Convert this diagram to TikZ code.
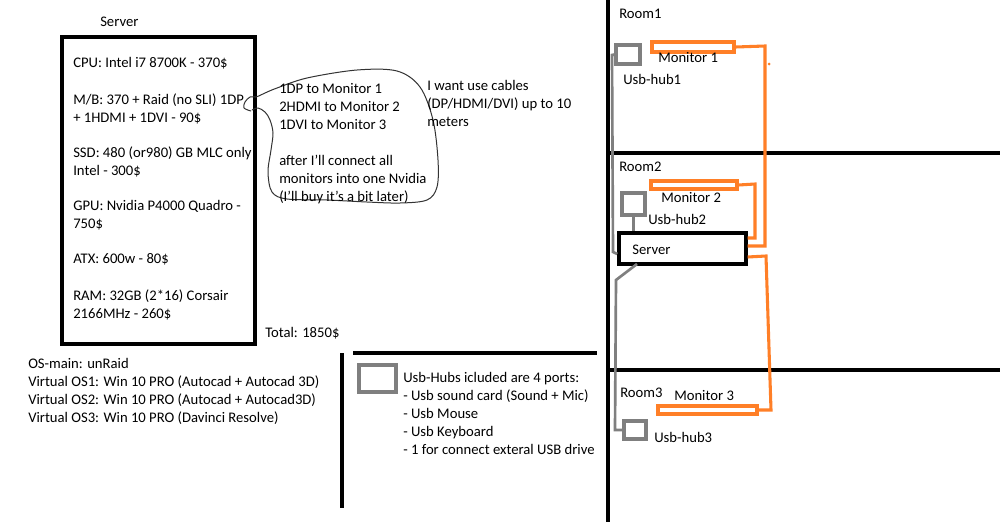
\documentclass[tikz,border=0pt]{standalone}
\usepackage{fontspec}
\setmainfont{Carlito}
\usetikzlibrary{fit}
\definecolor{hubgray}{RGB}{127,127,127}
\definecolor{monorange}{RGB}{255,127,39}
\newcommand\mlines[1]{\begin{tabular}[t]{@{}l@{}}#1\end{tabular}}
\begin{document}
\begin{tikzpicture}[x=0.75pt,y=-0.75pt,
  txt/.style={anchor=base west, inner sep=0pt, font=\fontsize{11}{13.5}\selectfont},
  blackbox/.style={draw=black, line width=2.5pt, inner sep=0pt},
  hubbox/.style={draw=hubgray, line width=2.3pt, inner sep=0pt},
  monbox/.style={draw=monorange, line width=2.3pt, inner sep=0pt},
  wall/.style={draw=black, line width=2.4pt},
  usbcable/.style={draw=hubgray, line width=2pt},
  vidcable/.style={draw=monorange, line width=2.3pt},
  cloudline/.style={draw=black!80, line width=0.75pt}]
\fill[white] (0,0) rectangle (1000,522);
\useasboundingbox (0,0) rectangle (1000,522);

% ---------- left: server spec ----------
\node[txt] (srvtitle) at (100,26) {Server};
\node[blackbox, fit={(62,37) (255,344)}] (srvbox) {};
\node[txt] (cpu) at (73,67) {CPU: Intel i7 8700K - 370\$};
\node[txt] (mb) at (73,104) {\mlines{M/B: 370 + Raid (no SLI) 1DP\\+ 1HDMI + 1DVI - 90\$}};
\node[txt] (ssd) at (73,157) {\mlines{SSD: 480 (or980) GB MLC only\\Intel - 300\$}};
\node[txt] (gpu) at (73,210) {\mlines{GPU: Nvidia P4000 Quadro -\\750\$}};
\node[txt] (atx) at (73,263) {ATX: 600w - 80\$};
\node[txt] (ram) at (73,300) {\mlines{RAM: 32GB (2*16) Corsair\\2166MHz - 260\$}};
\node[txt] (total) at (265,337) {Total: 1850\$};
\node[txt] (os) at (28,368) {\mlines{OS-main: unRaid\\Virtual OS1: Win 10 PRO (Autocad + Autocad 3D)\\Virtual OS2: Win 10 PRO (Autocad + Autocad3D)\\Virtual OS3: Win 10 PRO (Davinci Resolve)}};

% ---------- cloud note ----------
\draw[cloudline] plot[smooth, tension=0.55] coordinates {
  (251,111) (244,108) (245,102) (250,97) (256,97) (265,93) (277,88)
  (307,78) (357,70) (397,71) (420,87) (433,120) (438,160) (437,187)
  (427,200) (400,203) (367,202) (327,200) (287,199) (272,192) (268,172)
  (271,150) (273,133) (270,120) (265,112) (258,108) (252,110)};
\node[txt] (port1) at (279,93) {1DP to Monitor 1};
\node[txt] (port2) at (279,111) {2HDMI to Monitor 2};
\node[txt] (port3) at (279,129) {1DVI to Monitor 3};
\node[txt] (later) at (279,165) {\mlines{after I'll connect all\\monitors into one Nvidia\\(I'll buy it's a bit later)}};
\node[txt] (cables) at (427,90) {\mlines{I want use cables\\(DP/HDMI/DVI) up to 10\\meters}};

% ---------- legend ----------
\draw[wall] (353,353) -- (597,353);
\draw[wall] (342,353) -- (342,508);
\node[hubbox, fit={(359,365) (396,392)}] (leghub) {};
\node[txt] (legtext) at (403,382) {\mlines{Usb-Hubs icluded are 4 ports:\\- Usb sound card (Sound + Mic)\\- Usb Mouse\\- Usb Keyboard\\- 1 for connect exteral USB drive}};

% ---------- rooms ----------
\draw[wall] (608,0) -- (608,522);
\draw[wall] (608,153) -- (1000,153);
\draw[wall] (608,370) -- (1000,370);

\node[txt] (room1) at (619,18) {Room1};
\node[txt] (room2) at (619,171) {Room2};
\node[txt] (room3) at (620,397) {Room3};

\node[hubbox, fit={(616,45) (640,64)}] (hub1) {};
\node[hubbox, fit={(622,193) (645,215)}] (hub2) {};
\node[hubbox, fit={(624,421) (646,439)}] (hub3) {};
\node[txt] (hub1l) at (623,84) {Usb-hub1};
\node[txt] (hub2l) at (648,224) {Usb-hub2};
\node[txt] (hub3l) at (654,442) {Usb-hub3};

\node[monbox, fit={(652,42) (734,52)}] (mon1) {};
\node[monbox, fit={(651,181) (737,189)}] (mon2) {};
\node[monbox, fit={(658,406) (757,414)}] (mon3) {};
\node[txt] (mon1l) at (658,62) {Monitor 1};
\node[txt] (mon2l) at (661,202) {Monitor 2};
\node[txt] (mon3l) at (674,400) {Monitor 3};

\node[blackbox, fit={(619,233) (746,264)}] (srv) {};
\node[txt] (srvl) at (632,254) {Server};

% usb cables
\draw[usbcable] (hub1.west) -- (612,55) -- (613,252) -- (srv.west |- 613,254);
\draw[usbcable] (hub2.south) -- (srv.north -| hub2.south);
\draw[usbcable] (637,264) -- (616,280) -- (615,430) -- (hub3.west);

% video cables
\draw[vidcable] (mon1.east) -- (765,46) -- (765,246) -- (srv.east |- 765,246);
\fill[monorange] (769,64) circle (1.5);
\draw[vidcable] (mon2.east) -- (755,184) -- (755,238) -- (srv.east |- 755,238);
\draw[vidcable] (srv.east |- 766,257) -- (766,256) -- (771,410) -- (mon3.east);
\end{tikzpicture}
\end{document}
